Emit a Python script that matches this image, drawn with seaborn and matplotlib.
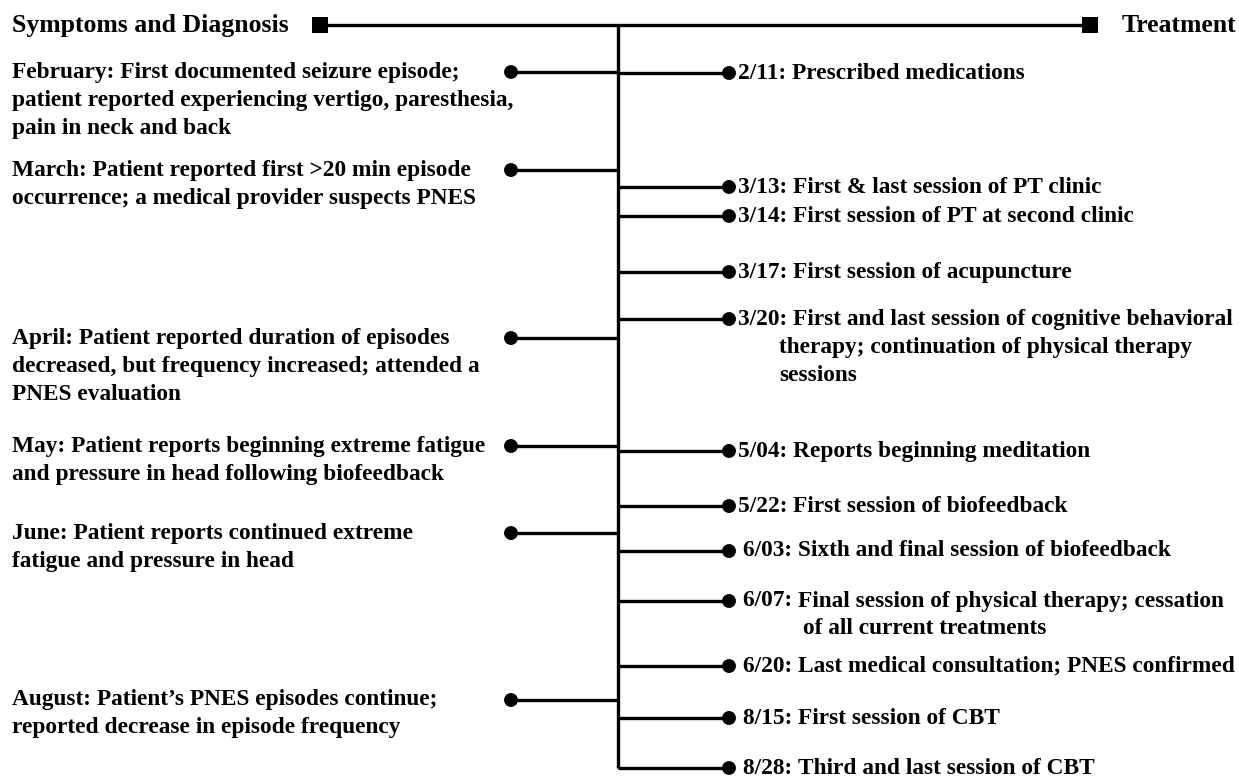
import matplotlib
matplotlib.use("Agg")
import matplotlib.pyplot as plt
import seaborn as sns
import pandas as pd

# ---------------- data ----------------
header_left = "Symptoms and Diagnosis"
header_right = "Treatment"

left_labels = [
    "February: First documented seizure episode;\npatient reported experiencing vertigo, paresthesia,\npain in neck and back",
    "March: Patient reported first >20 min episode\noccurrence; a medical provider suspects PNES",
    "April: Patient reported duration of episodes\ndecreased, but frequency increased; attended a\nPNES evaluation",
    "May: Patient reports beginning extreme fatigue\nand pressure in head following biofeedback",
    "June: Patient reports continued extreme\nfatigue and pressure in head",
    "August: Patient\u2019s PNES episodes continue;\nreported decrease in episode frequency",
]
left_pos = [72, 170, 338, 446, 533, 700]

right_dates = ["2/11", "3/13", "3/14", "3/17", "3/20", "5/04",
               "5/22", "6/03", "6/07", "6/20", "8/15", "8/28"]
right_labels = [
    "Prescribed medications",
    "First & last session of PT clinic",
    "First session of PT at second clinic",
    "First session of acupuncture",
    "First and last session of cognitive behavioral\ntherapy; continuation of physical therapy\nsessions",
    "Reports beginning meditation",
    "First session of biofeedback",
    "Sixth and final session of biofeedback",
    "Final session of physical therapy; cessation\nof all current treatments",
    "Last medical consultation; PNES confirmed",
    "First session of CBT",
    "Third and last session of CBT",
]
right_pos = [73, 187, 216, 272, 319, 451, 506, 551, 601, 666, 718, 768]

# ---------------- layout ----------------
W, H = 1239, 778
TRUNK_X = 618
LEFT_DOT_X = 511
RIGHT_DOT_X = 729
HEADER_Y = 25
HEADER_L_X = 320
HEADER_R_X = 1090
LEFT_TEXT_X = 12
RIGHT_TEXT_X = 738
TREAT_X = 1122
LINE_GAP = 28
FS = 16.8
FS_HEAD = 18.5
LW = 2.4
# shift of wrapped continuation lines relative to the text after the date
cont_shift = {"3/20": -14, "6/07": 5}
# entries whose text sits a little further from the dot
spaced = {"6/03": 5, "6/07": 5, "6/20": 5, "8/15": 5, "8/28": 5}

sns.set_theme(style="white")
plt.rcParams["font.family"] = ["Liberation Serif", "DejaVu Serif"]

fig = plt.figure(figsize=(W / 100, H / 100), dpi=100)
ax = fig.add_axes([0, 0, 1, 1])

# lines
ax.hlines(HEADER_Y, HEADER_L_X, HEADER_R_X, color="black", lw=LW)
ax.vlines(TRUNK_X, HEADER_Y, right_pos[-1], color="black", lw=LW)
ax.hlines(left_pos, LEFT_DOT_X, TRUNK_X, color="black", lw=LW)
ax.hlines(right_pos, TRUNK_X, RIGHT_DOT_X, color="black", lw=LW)

# markers
dots = pd.DataFrame({
    "x": [LEFT_DOT_X] * len(left_pos) + [RIGHT_DOT_X] * len(right_pos),
    "y": left_pos + right_pos,
})
sns.scatterplot(data=dots, x="x", y="y", color="black", s=100, marker="o",
                edgecolor="none", ax=ax, legend=False, zorder=3)
squares = pd.DataFrame({"x": [HEADER_L_X, HEADER_R_X], "y": [HEADER_Y, HEADER_Y]})
sns.scatterplot(data=squares, x="x", y="y", color="black", s=125, marker="s",
                edgecolor="none", ax=ax, legend=False, zorder=3)

ax.set_xlim(0, W)
ax.set_ylim(H, 0)
ax.axis("off")

txt = dict(fontsize=FS, fontweight="bold", color="black", va="center")
head = dict(fontsize=FS_HEAD, fontweight="bold", color="black", va="center")

ax.text(LEFT_TEXT_X, HEADER_Y, header_left, ha="left", **head)
ax.text(TREAT_X, HEADER_Y, header_right, ha="left", **head)

for label, y in zip(left_labels, left_pos):
    for i, line in enumerate(label.split("\n")):
        ax.text(LEFT_TEXT_X, y + i * LINE_GAP, line, ha="left", **txt)

fig.canvas.draw()
renderer = fig.canvas.get_renderer()
inv = ax.transData.inverted()
for date, label, y in zip(right_dates, right_labels, right_pos):
    lines = label.split("\n")
    x0 = RIGHT_TEXT_X + spaced.get(date, 0)
    prefix = ax.text(x0, y, f"{date}: ", ha="left", **txt)
    bb = prefix.get_window_extent(renderer)
    x_end = inv.transform((bb.x1, 0))[0]
    ax.text(x_end, y, lines[0], ha="left", **txt)
    x_cont = x_end + cont_shift.get(date, 0)
    for i, line in enumerate(lines[1:], start=1):
        ax.text(x_cont, y + i * LINE_GAP, line, ha="left", **txt)

fig.savefig("out.png", dpi=100)
